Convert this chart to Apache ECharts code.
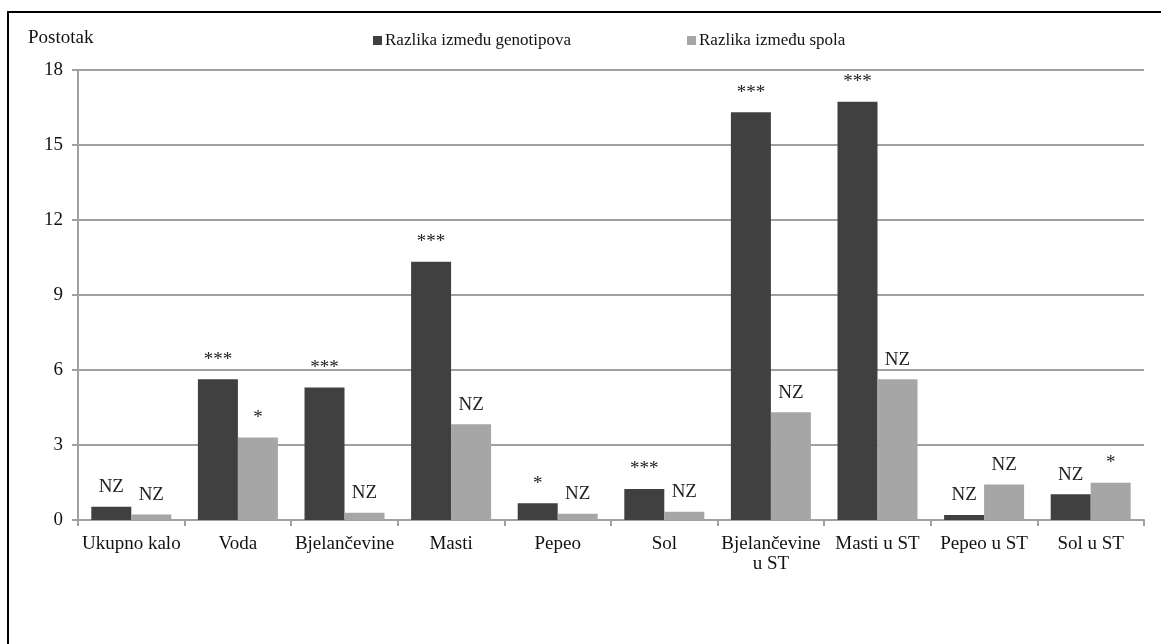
<!DOCTYPE html>
<html>
<head>
<meta charset="utf-8">
<script src="https://cdn.jsdelivr.net/npm/echarts@6/dist/echarts.min.js"></script>
<style>
  html, body { margin:0; padding:0; background:#fff; }
  #chart { width:1161px; height:644px; }
</style>
</head>
<body>
<div id="chart"></div>
<script>
// categories and values
const categories = ['Ukupno kalo','Voda','Bjelančevine','Masti','Pepeo','Sol','Bjelančevine\nu ST','Masti u ST','Pepeo u ST','Sol u ST'];
const genotipValues = [0.53, 5.63, 5.30, 10.33, 0.67, 1.24, 16.31, 16.73, 0.20, 1.03];
const spolValues = [0.22, 3.30, 0.29, 3.83, 0.25, 0.33, 4.31, 5.63, 1.42, 1.49];
const genotipSig = ['NZ','***','***','***','*','***','***','***','NZ','NZ'];
const spolSig = ['NZ','*','NZ','NZ','NZ','NZ','NZ','NZ','NZ','*'];
const yTicks = [0, 3, 6, 9, 12, 15, 18];

const font = 'Liberation Serif';

function makeLabel(sig){
    return {
        show:true,
        position:'top',
        distance:10,
        fontFamily:font,
        fontSize:19,
        color:'#222',
        formatter:(p)=>sig[p.dataIndex]
    };
}

const myChart = echarts.init(document.getElementById('chart'));
let option = {
    animation:false,
    textStyle:{ fontFamily:font },
    graphic:[{
        type:'rect',
        shape:{ x:8, y:12, width:1300, height:800 },
        style:{ fill:'none', stroke:'#000', lineWidth:2 },
        silent:true
    }],
    legend:{
        top:27,
        left:368,
        itemWidth:9,
        itemHeight:9,
        itemGap:116,
        icon:'rect',
        textStyle:{ fontFamily:font, fontSize:17, color:'#111', padding:[0,0,0,-2] },
        data:['Razlika između genotipova','Razlika između spola']
    },
    grid:{
        left:78,
        right:17,
        top:70,
        bottom:124,
        containLabel:false
    },
    xAxis:{
        type:'category',
        data:categories,
        axisLine:{ lineStyle:{ color:'#a0a0a0', width:2 } },
        axisTick:{ show:true, length:6, lineStyle:{ color:'#a0a0a0', width:2 } },
        axisLabel:{
            fontFamily:font,
            fontSize:19,
            color:'#111',
            margin:14,
            interval:0,
            lineHeight:20
        }
    },
    yAxis:{
        type:'value',
        name:'Postotak',
        nameLocation:'end',
        nameGap:22,
        nameTextStyle:{ fontFamily:font, fontSize:19, color:'#111', align:'left', padding:[0,0,0,-50] },
        min:yTicks[0],
        max:yTicks[yTicks.length-1],
        interval:3,
        axisLine:{ show:true, lineStyle:{ color:'#a0a0a0', width:2 } },
        axisTick:{ show:true, length:6, lineStyle:{ color:'#a0a0a0', width:2 } },
        axisLabel:{ fontFamily:font, fontSize:19, color:'#111', margin:15 },
        splitLine:{ lineStyle:{ color:'#a0a0a0', width:2 } }
    },
    series:[
        {
            name:'Razlika između genotipova',
            type:'bar',
            barWidth:40,
            barGap:'0%',
            itemStyle:{ color:'#404040' },
            label:makeLabel(genotipSig),
            data:genotipValues
        },
        {
            name:'Razlika između spola',
            type:'bar',
            barWidth:40,
            itemStyle:{ color:'#a6a6a6' },
            label:makeLabel(spolSig),
            data:spolValues
        }
    ]
};
myChart.setOption(option);
</script>
</body>
</html>
